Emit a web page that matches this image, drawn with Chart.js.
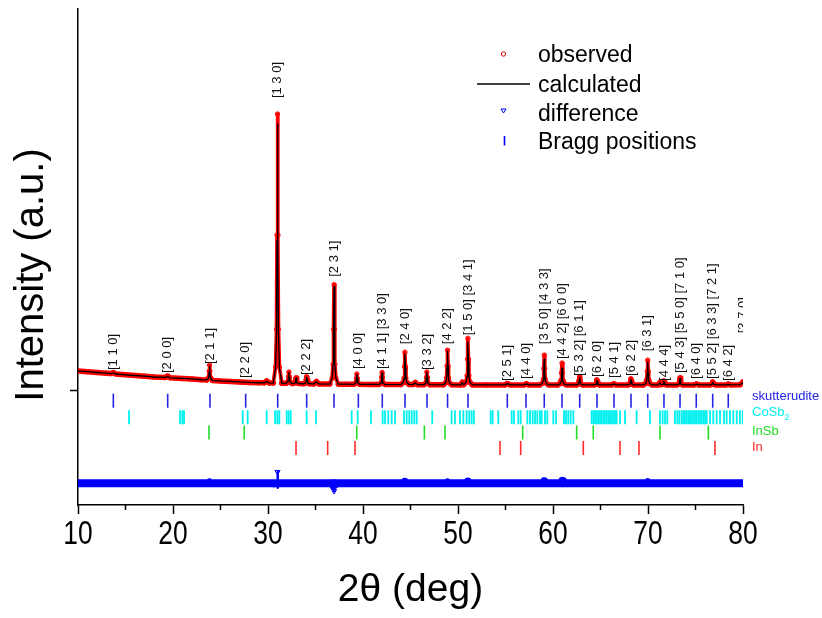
<!DOCTYPE html>
<html>
<head>
<meta charset="utf-8">
<script src="https://cdn.jsdelivr.net/npm/chart.js@4.4.1/dist/chart.umd.min.js"></script>
<style>
  html, body { margin: 0; padding: 0; background: #fff; }
  #wrap { width: 822px; height: 618px; }
</style>
</head>
<body>
<div id="wrap"><canvas id="xrd" width="822" height="618"></canvas></div>
<script>
// powder pattern, one line per peak / background stretch (same grouping in all three arrays)
const twoTheta = [
  10, 11, 12, 13,
  13.47, 13.72, 13.97,
  15, 16, 17, 18,
  19.19, 19.44, 19.69,
  21, 22, 23,
  23.55, 23.75, 23.81, 23.85, 23.89, 23.95, 24.15,
  25, 26, 27, 28, 29,
  29.61, 29.86, 30.11,
  30.55, 30.8, 30.9, 30.95, 31, 31.05, 31.1, 31.2, 31.45,
  31.9, 32.1, 32.16, 32.2, 32.24, 32.3, 32.5,
  32.65, 32.85, 32.91, 32.95, 32.99, 33.05, 33.25,
  33.77, 33.97, 34.03, 34.07, 34.11, 34.17, 34.37,
  34.85, 35.1, 35.35,
  36.5, 36.75, 36.85, 36.9, 36.95, 37, 37.05, 37.15, 37.4,
  38.2,
  39.05, 39.25, 39.31, 39.35, 39.39, 39.45, 39.65,
  40.7,
  41.7, 41.9, 41.96, 42, 42.04, 42.1, 42.3,
  43.97, 44.22, 44.32, 44.37, 44.42, 44.47, 44.52, 44.62, 44.87,
  45.25, 45.5, 45.75,
  46.42, 46.62, 46.68, 46.72, 46.76, 46.82, 47.02,
  48.45, 48.7, 48.8, 48.85, 48.9, 48.95, 49, 49.1, 49.35,
  50.3, 50.45,
  50.6, 50.85, 50.95, 51, 51.05, 51.1, 51.15, 51.25, 51.5,
  53, 54.95, 55.2, 55.45, 56.95, 57.2, 57.45,
  58.63, 58.88, 58.98, 59.03, 59.08, 59.13, 59.18, 59.28, 59.53,
  60.5, 60.75, 60.85, 60.9, 60.95, 61, 61.05, 61.15, 61.4,
  62.5, 62.7, 62.76, 62.8, 62.84, 62.9, 63.1,
  64.33, 64.53, 64.59, 64.63, 64.67, 64.73, 64.93,
  66.15, 66.4, 66.65,
  67.9, 68.1, 68.16, 68.2, 68.24, 68.3, 68.5,
  69.52, 69.77, 69.87, 69.92, 69.97, 70.02, 70.07, 70.17, 70.42,
  71.05, 71.26, 71.38,
  71.58, 71.64, 71.68, 71.72, 71.78, 71.98,
  73.07, 73.27, 73.33, 73.37, 73.41, 73.47, 73.67,
  74.85, 75.1, 75.35,
  76.51, 76.71, 76.77, 76.81, 76.85, 76.91, 77.11,
  78.2, 78.45, 78.7, 79.7, 80
];
const observed = [
  200, 193, 185, 178,
  174, 185, 170,
  162, 155, 148, 140,
  136, 150, 132,
  125, 120, 112,
  110, 131, 199, 260, 199, 131, 105,
  100, 95, 90, 85, 82,
  81, 100, 80,
  79, 241, 620, 1570, 2790, 1570, 620, 241, 77,
  76, 93, 144, 190, 144, 93, 75,
  74, 82, 108, 130, 108, 82, 74,
  72, 82, 113, 140, 113, 82, 72,
  70, 95, 70,
  69, 128, 268, 619, 1070, 619, 268, 128, 68,
  67,
  66, 82, 128, 170, 128, 82, 66,
  65,
  64, 82, 137, 185, 137, 82, 64,
  63, 83, 128, 243, 390, 243, 128, 83, 63,
  63, 85, 62,
  62, 81, 139, 190, 139, 81, 62,
  61, 82, 131, 253, 410, 253, 131, 82, 61,
  60, 88,
  62, 88, 154, 319, 530, 319, 154, 88, 60,
  60, 60, 75, 60, 60, 72, 60,
  60, 78, 120, 225, 360, 225, 120, 78, 60,
  60, 73, 104, 181, 280, 181, 104, 73, 60,
  60, 72, 108, 140, 108, 72, 60,
  60, 68, 90, 110, 90, 68, 60,
  60, 72, 60,
  60, 69, 96, 120, 96, 69, 60,
  60, 75, 110, 198, 310, 198, 110, 75, 60,
  60, 85, 62,
  66, 84, 100, 84, 66, 60,
  60, 70, 102, 130, 102, 70, 60,
  60, 70, 60,
  60, 65, 78, 90, 78, 65, 60,
  60, 68, 60, 62, 90
];
const calculated = [
  200, 193, 185, 178,
  174, 181, 170,
  162, 155, 148, 140,
  136, 146, 132,
  125, 120, 112,
  110, 129, 193, 250, 193, 129, 105,
  100, 95, 90, 85, 82,
  81, 96, 80,
  79, 235, 600, 1515, 2690, 1515, 600, 235, 77,
  76, 92, 141, 185, 141, 92, 75,
  74, 82, 107, 128, 107, 82, 74,
  72, 81, 110, 135, 110, 81, 72,
  70, 92, 70,
  69, 127, 264, 608, 1050, 608, 264, 127, 68,
  67,
  66, 81, 125, 165, 125, 81, 66,
  65,
  64, 81, 134, 180, 134, 81, 64,
  63, 81, 124, 232, 370, 232, 124, 81, 63,
  63, 82, 62,
  62, 80, 136, 185, 136, 80, 62,
  61, 81, 129, 247, 400, 247, 129, 81, 61,
  60, 85,
  62, 86, 146, 297, 490, 297, 146, 86, 60,
  60, 60, 73, 60, 60, 70, 60,
  60, 76, 112, 203, 320, 203, 112, 76, 60,
  60, 70, 94, 154, 230, 154, 94, 70, 60,
  60, 71, 105, 135, 105, 71, 60,
  60, 67, 89, 108, 89, 67, 60,
  60, 70, 60,
  60, 69, 95, 118, 95, 69, 60,
  60, 74, 106, 187, 290, 187, 106, 74, 60,
  60, 82, 62,
  66, 83, 98, 83, 66, 60,
  60, 70, 100, 126, 100, 70, 60,
  60, 68, 60,
  60, 65, 77, 88, 77, 65, 60,
  60, 66, 60, 62, 85
];

// difference curve (shifted below the pattern)
const diffX = [10, 23.75, 23.85, 23.95, 30.85, 30.95, 31, 31.05, 31.15, 36.85, 36.9, 36.95, 37, 37.1,
  44.32, 44.42, 44.52, 48.8, 48.9, 49, 50.95, 51.05, 51.15, 58.98, 59.08, 59.18,
  60.85, 60.95, 61.05, 69.87, 69.97, 70.07, 80];
const diffY = [-932, -932, -922, -932, -932, -965, -817, -975, -932, -932, -955, -1010, -965, -932,
  -932, -915, -932, -932, -922, -932, -932, -912, -932, -932, -910, -932,
  -932, -908, -932, -932, -920, -932, -932];

// Bragg reflections of each phase
const skutterudite = [13.72, 19.44, 23.89, 27.65, 31.02, 34.07, 36.95, 39.51, 42.03, 44.42, 46.74, 48.9,
  51.05, 55.19, 57.16, 59.08, 60.95, 62.81, 64.63, 66.42, 68.21, 69.97, 71.68, 73.37, 75.08, 76.81, 78.45];
const cosb2 = [15.37, 20.74, 20.98, 21.16, 27.34, 27.86, 29.86, 30.74, 30.98, 31.19, 31.97, 32.18, 32.39,
  34.07, 35.05, 38.81, 39.44, 40.84, 42.07, 42.32, 42.66, 43.02, 43.37, 44.32, 44.6, 44.87, 45.13,
  45.4, 45.65, 47.29, 49.33, 49.68, 50.21, 50.56, 50.91, 51.19, 51.44, 51.68, 53.44, 53.65, 54.24,
  55.65, 55.89, 56.35, 56.6, 57.3, 57.58, 57.86, 58.11, 58.35, 58.63, 58.81, 59.16, 59.4, 60.03,
  60.32, 61.16, 61.37, 61.61, 61.86, 62.14, 64.07, 64.25, 64.42, 64.6, 64.77, 64.95, 65.12, 65.3,
  65.47, 65.65, 65.82, 66.0, 66.18, 66.35, 66.53, 66.7, 67.05, 67.58, 68.81, 70.21, 71.26, 71.54,
  71.79, 72.03, 72.84, 73.09, 73.3, 73.54, 73.72, 73.89, 74.07, 74.24, 74.42, 74.6, 74.77, 74.95,
  75.12, 75.3, 75.47, 75.65, 75.82, 76.0, 76.18, 76.53, 76.87, 77.23, 77.58, 78.0, 78.28, 78.63,
  78.98, 79.34, 79.68, 79.97];
const insb = [23.79, 27.5, 39.34, 46.46, 48.63, 56.81, 62.49, 64.24, 71.26, 76.35];
const indium = [32.95, 36.28, 39.16, 54.42, 56.6, 63.19, 67.05, 69.05, 77.05];
const phaseNames = ["skutterudite", "CoSb2", "InSb", "In"];
const phaseLevel = [-100, -265, -420, -575];

// hkl annotations of the skutterudite reflections
const hklPos = [13.72, 19.44, 23.89, 27.65, 31.02, 34.07, 36.95, 39.51, 42.03, 44.42, 46.74, 48.9, 51.05,
  55.19, 57.16, 59.08, 60.95, 62.81, 64.63, 66.42, 68.21, 69.97, 71.68, 73.37, 75.08, 76.81, 78.45, 80.0];
const hklText = ["[1 1 0]", "[2 0 0]", "[2 1 1]", "[2 2 0]", "[1 3 0]", "[2 2 2]", "[2 3 1]", "[4 0 0]",
  "[4 1 1] [3 3 0]", "[2 4 0]", "[3 3 2]", "[4 2 2]", "[1 5 0] [3 4 1]", "[2 5 1]", "[4 4 0]",
  "[3 5 0] [4 3 3]", "[4 4 2] [6 0 0]", "[5 3 2] [6 1 1]", "[6 2 0]", "[5 4 1]", "[6 2 2]", "[6 3 1]",
  "[4 4 4]", "[5 4 3] [5 5 0] [7 1 0]", "[6 4 0]", "[5 5 2] [6 3 3] [7 2 1]", "[6 4 2]", "[3 7 0]"];
const hklLevel = [210, 180, 270, 130, 2950, 160, 1150, 220, 220, 470, 210, 470, 560, 100, 120, 470, 320,
  150, 140, 130, 150, 400, 100, 180, 120, 120, 100, 580];

const xTickLabels = [10, 20, 30, 40, 50, 60, 70, 80];
const xMinorTicks = [15, 25, 35, 45, 55, 65, 75];

const SANS = "'Liberation Sans', Arial, sans-serif";
const phaseColors = ["#2323e6", "#00f0f0", "#22dd22", "#ff2a2a"];

function pairs(xs, ys) { return xs.map((v, i) => ({ x: v, y: ys[i] })); }
function row(xs, level) { return xs.map(v => ({ x: v, y: level })); }
const steep = c => Math.abs(c.p1.y - c.p0.y) > 4;

function braggSet(label, xs, i) {
  return {
    label: label, data: row(xs, phaseLevel[i]), showLine: false, order: 3,
    pointStyle: "line", rotation: 90, pointRadius: 7, pointHoverRadius: 7,
    borderColor: phaseColors[i], borderWidth: i === 1 ? 1.8 : 1.6
  };
}

const decorations = {
  id: "decorations",
  afterDatasetsDraw(chart) {
    const { ctx, chartArea: a, scales: { x, y } } = chart;

    // hkl labels, rotated
    ctx.save();
    ctx.beginPath();
    ctx.rect(a.left, 0, a.right - a.left, a.bottom);
    ctx.clip();
    ctx.font = "13px " + SANS;
    ctx.fillStyle = "#111";
    ctx.textAlign = "left";
    ctx.textBaseline = "middle";
    hklText.forEach((t, i) => {
      ctx.save();
      ctx.translate(x.getPixelForValue(hklPos[i]), y.getPixelForValue(hklLevel[i]));
      ctx.rotate(-Math.PI / 2);
      ctx.fillText(t, 0, 0);
      ctx.restore();
    });
    ctx.restore();

    // phase names beside the tick rows
    ctx.save();
    ctx.textAlign = "left";
    ctx.textBaseline = "middle";
    const dy = [-4, -5, -1, -1];
    phaseNames.forEach((n, i) => {
      const py = y.getPixelForValue(phaseLevel[i]) + dy[i];
      ctx.fillStyle = phaseColors[i];
      ctx.font = "13px " + SANS;
      if (n === "CoSb2") {
        ctx.fillText("CoSb", a.right + 9, py);
        const w = ctx.measureText("CoSb").width;
        ctx.font = "9px " + SANS;
        ctx.fillText("2", a.right + 9 + w, py + 5);
      } else {
        ctx.fillText(n, a.right + 9, py);
      }
    });
    ctx.restore();

    // legend
    ctx.save();
    ctx.font = "23px " + SANS;
    ctx.fillStyle = "#000";
    ctx.textAlign = "left";
    ctx.textBaseline = "alphabetic";
    const names = ["observed", "calculated", "difference", "Bragg positions"];
    const base = [62, 92, 120.5, 148.5];
    names.forEach((t, i) => ctx.fillText(t, 538, base[i]));
    ctx.lineWidth = 1;
    ctx.strokeStyle = "#ff0000";
    ctx.beginPath(); ctx.arc(503.5, 54, 2.2, 0, Math.PI * 2); ctx.stroke();
    ctx.strokeStyle = "#000"; ctx.lineWidth = 1.5;
    ctx.beginPath(); ctx.moveTo(477, 84); ctx.lineTo(530, 84); ctx.stroke();
    ctx.strokeStyle = "#0000ff"; ctx.lineWidth = 1;
    ctx.beginPath(); ctx.moveTo(501, 109); ctx.lineTo(506, 109); ctx.lineTo(503.5, 113); ctx.closePath(); ctx.stroke();
    ctx.lineWidth = 1.6;
    ctx.beginPath(); ctx.moveTo(504.5, 136); ctx.lineTo(504.5, 145.5); ctx.stroke();
    ctx.restore();
  },
  afterDraw(chart) {
    const { ctx, chartArea: a, scales: { x } } = chart;
    ctx.save();
    // minor ticks of the 2theta axis
    ctx.strokeStyle = "#000";
    ctx.lineWidth = 1.5;
    xMinorTicks.forEach(v => {
      const px = x.getPixelForValue(v);
      ctx.beginPath(); ctx.moveTo(px, a.bottom); ctx.lineTo(px, a.bottom + 5); ctx.stroke();
    });
    // tick labels, in a narrow face
    ctx.fillStyle = "#000";
    ctx.font = "33px " + SANS;
    ctx.textAlign = "center";
    ctx.textBaseline = "alphabetic";
    xTickLabels.forEach(v => {
      ctx.save();
      ctx.translate(x.getPixelForValue(v), a.bottom + 39);
      ctx.scale(0.8, 1);
      ctx.fillText(String(v), 0, 0);
      ctx.restore();
    });
    // y title
    ctx.font = "40px " + SANS;
    ctx.translate(43, 275);
    ctx.rotate(-Math.PI / 2);
    ctx.fillText("Intensity (a.u.)", 0, 0);
    ctx.restore();
  }
};

new Chart(document.getElementById("xrd"), {
  type: "scatter",
  data: {
    datasets: [
      {
        label: "calculated", data: pairs(twoTheta, calculated), showLine: true, order: 0,
        borderColor: "#000", borderWidth: 1.3, pointRadius: 0, borderJoinStyle: "round"
      },
      {
        label: "observed", data: pairs(twoTheta, observed), showLine: true, order: 1,
        borderColor: "#ff0000", borderWidth: 5, borderJoinStyle: "round", borderCapStyle: "round",
        segment: { borderWidth: c => steep(c) ? 3.8 : 5.5 },
        pointRadius: 2.2, pointBorderWidth: 1, pointBorderColor: "#ff0000",
        pointBackgroundColor: "rgba(255,255,255,0)"
      },
      {
        label: "difference", data: pairs(diffX, diffY), showLine: true, order: 2,
        borderColor: "#0000ff", borderWidth: 8, borderJoinStyle: "round",
        segment: { borderWidth: c => steep(c) ? 2.5 : 8 },
        pointStyle: "triangle", rotation: 180, pointBorderColor: "#0000ff", pointBorderWidth: 1,
        pointBackgroundColor: "rgba(255,255,255,0)",
        pointRadius: c => (c.raw && (c.raw.y > -900 || c.raw.y < -990)) ? 3 : 0
      },
      braggSet("skutterudite", skutterudite, 0),
      braggSet("CoSb2", cosb2, 1),
      braggSet("InSb", insb, 2),
      braggSet("In", indium, 3)
    ]
  },
  options: {
    responsive: false,
    animation: false,
    layout: { padding: { top: 5, right: 79, left: 0, bottom: 0 } },
    plugins: { legend: { display: false }, tooltip: { enabled: false } },
    scales: {
      x: {
        type: "linear", min: 10, max: 80,
        afterFit: s => { s.height = 113; },
        border: { display: true, color: "#000", width: 1.5 },
        grid: {
          drawOnChartArea: false, tickLength: 9, tickWidth: 1.5,
          tickColor: c => (c.tick && xTickLabels.includes(c.tick.value)) ? "#000" : "rgba(0,0,0,0)"
        },
        ticks: { stepSize: 5, autoSkip: false, display: false },
        title: {
          display: true, text: "2\u03b8 (deg)", color: "#000",
          font: { family: SANS, size: 39 }, padding: { top: 0, bottom: 4 }
        }
      },
      y: {
        type: "linear", min: -1150, max: 3850,
        afterFit: s => { s.width = 78; },
        afterBuildTicks: s => { s.ticks = [{ value: 0 }]; },
        border: { display: true, color: "#000", width: 1.5 },
        grid: { drawOnChartArea: false, tickLength: 8, tickWidth: 1.5, tickColor: "#000" },
        ticks: { display: false }
      }
    }
  },
  plugins: [decorations]
});
</script>
</body>
</html>
